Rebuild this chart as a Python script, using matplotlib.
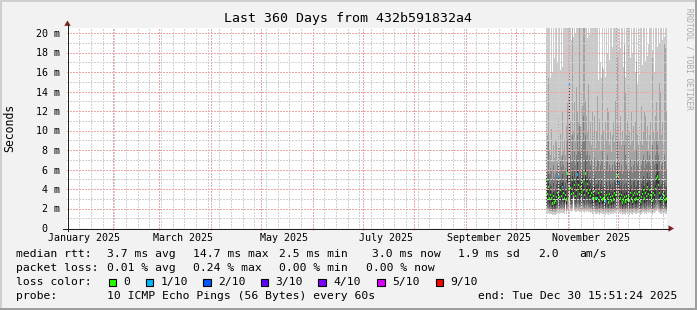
import numpy as np
import matplotlib
matplotlib.use('Agg')
import matplotlib.pyplot as plt
import matplotlib.dates as mdates
import pandas as pd
from matplotlib.patches import Rectangle, Polygon
from matplotlib.lines import Line2D

W, H, DPI = 697, 310, 100
MONO = 'DejaVu Sans Mono'
plt.rcParams['font.family'] = MONO

# ---------------- data ----------------
title = "Last 360 Days from 432b591832a4"
y_label = "Seconds"
period_start = pd.Timestamp('2025-01-04 15:51:24')
period_end = pd.Timestamp('2025-12-30 15:51:24')
data_start = pd.Timestamp('2025-10-19 01:27:24')
step_minutes = 864          # one consolidated column (0.6 day)

x_labels = ['January 2025', 'March 2025', 'May 2025', 'July 2025',
            'September 2025', 'November 2025']
x_label_dates = ['2025-01-15', '2025-03-15', '2025-05-15', '2025-07-15',
                 '2025-09-15', '2025-11-15']
y_ticks = [0, 2, 4, 6, 8, 10, 12, 14, 16, 18, 20]
y_tick_labels = ['0  ', '2 m', '4 m', '6 m', '8 m', '10 m', '12 m', '14 m',
                 '16 m', '18 m', '20 m']

# median rtt (ms) per column
median = [4.9, 3.5, 4.2, 3.0, 3.4, 3.0, 2.5, 3.3, 2.6, 2.8,
          3.2, 3.6, 5.3, 3.2, 3.9, 3.3, 4.2, 3.6, 3.0, 3.4,
          2.9, 5.6, 4.0, 14.7, 4.1, 3.5, 4.9, 3.6, 4.4, 3.3,
          3.9, 5.5, 4.4, 3.5, 4.2, 3.7, 4.75, 3.9, 3.4, 5.6,
          3.8, 4.5, 3.6, 3.9, 3.3, 3.6, 3.0, 3.4, 3.8, 3.0,
          3.1, 3.1, 3.6, 2.8, 3.2, 3.7, 2.9, 3.0, 3.3, 2.7,
          3.4, 3.0, 2.6, 3.5, 3.2, 2.8, 3.3, 2.9, 3.6, 3.4,
          3.1, 5.4, 4.6, 3.5, 3.0, 3.4, 2.6, 2.9, 3.2, 2.7,
          3.3, 2.9, 3.2, 2.8, 3.6, 3.1, 2.7, 3.4, 3.6, 2.9,
          3.0, 3.5, 3.7, 3.1, 2.7, 3.2, 3.5, 3.9, 3.0, 3.6,
          3.3, 4.2, 3.5, 3.9, 3.4, 3.2, 2.8, 3.6, 3.4, 4.0,
          5.1, 5.3, 4.4, 3.6, 3.0, 3.2, 3.5, 2.7, 3.3, 2.9,
          3.0]
# loss class per column (index into loss_colors)
loss = [0, 0, 0, 0, 0, 0, 0, 0, 0, 0,
        0, 0, 1, 0, 0, 0, 1, 0, 0, 0,
        0, 0, 0, 1, 0, 0, 0, 0, 0, 0,
        0, 1, 0, 0, 0, 0, 0, 0, 0, 0,
        0, 0, 0, 0, 0, 0, 0, 0, 0, 0,
        0, 1, 0, 0, 0, 0, 0, 0, 0, 1,
        0, 0, 0, 0, 0, 0, 0, 0, 0, 0,
        0, 0, 1, 0, 0, 0, 0, 0, 0, 0,
        0, 0, 0, 0, 0, 0, 0, 0, 0, 0,
        0, 0, 0, 0, 0, 0, 0, 0, 0, 0,
        0, 0, 0, 0, 0, 0, 0, 0, 0, 0,
        0, 0, 0, 0, 0, 1, 0, 0, 0, 0,
        0]
# sorted ping rtts (ms): p1 lowest ... p10 highest
p1 = [1.4, 1.4, 1.5, 1.4, 1.4, 1.4, 1.3, 1.4, 1.3, 1.3,
      1.4, 1.5, 1.6, 1.4, 1.5, 1.5, 1.5, 1.5, 1.4, 2.4,
      1.4, 1.7, 1.6, 3.5, 1.7, 1.6, 1.7, 3.1, 1.7, 1.6,
      1.6, 1.7, 1.7, 1.6, 1.6, 1.6, 1.7, 1.6, 1.5, 1.7,
      1.6, 1.7, 1.6, 1.6, 1.5, 1.6, 1.4, 1.5, 1.6, 1.4,
      1.4, 1.4, 1.5, 1.3, 1.5, 1.5, 1.4, 1.4, 1.5, 1.3,
      1.5, 1.4, 1.3, 1.5, 1.4, 1.4, 1.5, 1.4, 1.5, 1.5,
      1.4, 1.7, 1.6, 1.5, 1.4, 1.5, 1.3, 1.4, 1.4, 1.3,
      1.5, 1.4, 1.5, 1.3, 1.5, 1.4, 1.3, 1.5, 1.5, 1.4,
      1.4, 1.5, 1.5, 1.4, 1.3, 1.4, 1.5, 1.6, 1.4, 1.5,
      1.4, 1.6, 1.5, 1.6, 1.5, 1.4, 1.3, 1.5, 1.5, 1.6,
      1.7, 1.8, 1.6, 1.5, 1.4, 1.4, 1.5, 1.3, 1.5, 1.4,
      1.4]
p2 = [1.8, 1.8, 1.8, 1.7, 1.7, 1.7, 1.6, 1.7, 1.6, 1.6,
      1.7, 1.8, 1.9, 1.7, 1.8, 1.8, 1.9, 1.8, 1.7, 2.6,
      1.7, 2.0, 2.0, 3.7, 2.0, 1.9, 2.1, 3.2, 2.0, 1.9,
      1.9, 2.1, 2.0, 1.9, 1.9, 1.9, 2.0, 1.9, 1.8, 2.0,
      1.9, 2.0, 1.9, 1.9, 1.8, 1.9, 1.7, 1.8, 1.9, 1.7,
      1.7, 1.7, 1.8, 1.6, 1.8, 1.8, 1.7, 1.7, 1.8, 1.6,
      1.8, 1.7, 1.6, 1.8, 1.7, 1.7, 1.8, 1.7, 1.8, 1.8,
      1.7, 2.0, 1.9, 1.8, 1.7, 1.8, 1.6, 1.7, 1.7, 1.6,
      1.8, 1.7, 1.8, 1.6, 1.8, 1.7, 1.6, 1.8, 1.8, 1.7,
      1.7, 1.8, 1.8, 1.7, 1.6, 1.7, 1.8, 1.9, 1.7, 1.8,
      1.7, 1.9, 1.8, 1.9, 1.8, 1.7, 1.6, 1.8, 1.8, 1.9,
      2.0, 2.1, 1.9, 1.8, 1.7, 1.7, 1.8, 1.6, 1.8, 1.7,
      1.7]
p3 = [2.2, 2.1, 2.1, 1.9, 2.0, 1.9, 1.8, 2.0, 1.8, 1.8,
      2.0, 2.1, 2.3, 2.0, 2.1, 2.1, 2.2, 2.1, 1.9, 2.8,
      1.9, 2.4, 2.3, 3.9, 2.4, 2.2, 2.5, 3.3, 2.4, 2.2,
      2.2, 2.5, 2.4, 2.2, 2.3, 2.2, 2.4, 2.2, 2.1, 2.4,
      2.2, 2.4, 2.2, 2.2, 2.1, 2.2, 2.0, 2.1, 2.2, 2.0,
      2.0, 2.0, 2.1, 1.9, 2.1, 2.1, 1.9, 1.9, 2.1, 1.8,
      2.1, 1.9, 1.8, 2.1, 2.0, 1.9, 2.1, 1.9, 2.1, 2.1,
      2.0, 2.4, 2.3, 2.1, 1.9, 2.1, 1.8, 1.9, 2.0, 1.8,
      2.1, 1.9, 2.1, 1.8, 2.1, 2.0, 1.8, 2.1, 2.1, 1.9,
      1.9, 2.1, 2.1, 2.0, 1.8, 2.0, 2.1, 2.2, 1.9, 2.1,
      2.0, 2.3, 2.1, 2.2, 2.1, 2.0, 1.8, 2.1, 2.1, 2.2,
      2.4, 2.5, 2.3, 2.1, 1.9, 2.0, 2.1, 1.8, 2.1, 1.9,
      1.9]
p4 = [2.6, 2.4, 2.5, 2.2, 2.3, 2.2, 2.0, 2.3, 2.0, 2.1,
      2.3, 2.4, 2.8, 2.3, 2.5, 2.4, 2.7, 2.5, 2.2, 2.9,
      2.2, 2.9, 2.7, 4.2, 2.8, 2.5, 2.9, 3.4, 2.8, 2.5,
      2.6, 3.0, 2.8, 2.5, 2.7, 2.6, 2.8, 2.6, 2.4, 2.9,
      2.6, 2.8, 2.5, 2.6, 2.4, 2.5, 2.3, 2.4, 2.6, 2.3,
      2.3, 2.3, 2.5, 2.1, 2.4, 2.5, 2.2, 2.2, 2.4, 2.1,
      2.4, 2.2, 2.1, 2.4, 2.3, 2.1, 2.4, 2.2, 2.5, 2.4,
      2.3, 2.9, 2.7, 2.4, 2.2, 2.4, 2.0, 2.2, 2.3, 2.1,
      2.4, 2.2, 2.4, 2.1, 2.5, 2.3, 2.1, 2.4, 2.5, 2.2,
      2.2, 2.4, 2.5, 2.3, 2.1, 2.3, 2.4, 2.6, 2.2, 2.5,
      2.3, 2.7, 2.4, 2.6, 2.4, 2.3, 2.1, 2.5, 2.4, 2.6,
      2.9, 3.0, 2.7, 2.5, 2.2, 2.3, 2.4, 2.1, 2.4, 2.2,
      2.2]
p5 = [4.3, 3.0, 3.6, 2.6, 2.9, 2.6, 2.2, 2.8, 2.3, 2.4,
      2.8, 3.1, 4.0, 2.8, 3.3, 2.9, 3.6, 3.1, 2.6, 3.0,
      2.5, 4.6, 3.4, 4.5, 3.5, 3.0, 4.2, 3.5, 3.8, 2.9,
      3.4, 4.6, 3.8, 3.0, 3.6, 3.2, 4.0, 3.4, 2.9, 4.7,
      3.3, 3.9, 3.1, 3.4, 2.9, 3.1, 2.6, 2.9, 3.3, 2.6,
      2.7, 2.7, 3.1, 2.4, 2.8, 3.2, 2.5, 2.6, 2.9, 2.3,
      2.9, 2.6, 2.3, 3.0, 2.8, 2.4, 2.9, 2.5, 3.1, 2.9,
      2.7, 4.6, 3.9, 3.0, 2.6, 2.9, 2.3, 2.5, 2.8, 2.4,
      2.9, 2.5, 2.8, 2.4, 3.1, 2.7, 2.4, 2.9, 3.1, 2.5,
      2.6, 3.0, 3.2, 2.7, 2.4, 2.8, 3.0, 3.4, 2.6, 3.1,
      2.8, 3.6, 3.0, 3.4, 2.9, 2.8, 2.4, 3.1, 2.9, 3.5,
      4.4, 4.6, 3.8, 3.1, 2.6, 2.8, 3.0, 2.4, 2.9, 2.5,
      2.6]
p6 = [5.3, 3.9, 4.6, 3.4, 3.8, 3.4, 2.9, 3.7, 3.0, 3.2,
      3.6, 4.0, 5.6, 3.6, 4.3, 3.7, 4.6, 4.0, 3.4, 3.8,
      3.3, 6.0, 4.4, 14.7, 4.5, 3.9, 5.3, 4.0, 4.8, 3.7,
      4.3, 5.9, 4.8, 3.9, 4.6, 5.0, 5.1, 4.3, 3.8, 6.0,
      4.2, 4.9, 4.0, 4.3, 3.7, 4.0, 3.4, 3.8, 4.2, 3.4,
      3.5, 3.5, 4.0, 3.2, 3.6, 4.1, 3.3, 3.4, 3.7, 3.1,
      3.8, 3.4, 3.0, 3.9, 3.6, 3.2, 3.7, 3.3, 4.0, 3.8,
      3.5, 5.9, 5.0, 3.9, 3.4, 3.8, 3.0, 3.3, 3.6, 3.1,
      3.7, 3.3, 5.0, 3.2, 4.0, 3.5, 3.1, 3.8, 4.0, 3.3,
      3.4, 3.9, 4.1, 3.5, 3.1, 3.6, 3.9, 4.3, 3.4, 4.0,
      3.7, 4.6, 3.9, 4.3, 3.8, 3.6, 3.2, 4.0, 3.8, 4.4,
      5.5, 5.7, 4.8, 4.0, 3.4, 3.6, 3.9, 3.1, 3.7, 3.3,
      3.4]
p7 = [6.0, 4.8, 5.5, 4.2, 4.5, 4.3, 3.6, 4.6, 3.8, 4.0,
      4.5, 4.8, 6.5, 4.5, 5.0, 4.6, 5.5, 4.8, 4.2, 4.6,
      4.0, 6.8, 5.5, 15.0, 5.4, 4.8, 6.2, 5.0, 5.8, 4.6,
      5.2, 6.8, 5.8, 5.0, 5.6, 5.2, 6.0, 5.4, 4.8, 7.0,
      5.2, 5.8, 5.0, 5.2, 4.6, 4.9, 4.3, 4.7, 5.2, 4.3,
      4.5, 4.5, 5.0, 4.0, 4.5, 5.0, 4.2, 4.3, 4.6, 4.0,
      4.7, 4.3, 3.9, 4.8, 4.5, 4.1, 4.6, 4.2, 5.0, 4.7,
      4.5, 6.8, 6.0, 4.8, 4.3, 4.7, 3.9, 4.2, 4.5, 4.0,
      4.6, 4.2, 6.0, 4.1, 5.0, 4.4, 4.0, 4.7, 5.0, 4.2,
      4.3, 4.8, 5.0, 4.4, 4.0, 4.5, 4.8, 5.3, 4.3, 5.0,
      4.6, 5.6, 4.8, 5.2, 4.7, 4.5, 4.1, 5.0, 4.7, 5.4,
      6.6, 6.6, 5.8, 5.0, 4.3, 4.5, 4.8, 4.0, 4.6, 4.2,
      4.3]
p8 = [8.5, 6.0, 9.0, 5.5, 6.2, 5.8, 5.0, 6.5, 5.2, 5.6,
      6.0, 6.5, 8.2, 6.0, 7.0, 6.3, 7.5, 6.5, 5.8, 6.2,
      5.5, 9.0, 8.0, 16.0, 7.5, 6.8, 9.5, 7.0, 8.0, 6.5,
      7.5, 9.5, 8.0, 10.5, 7.8, 8.5, 8.8, 11.5, 9.0, 9.5,
      7.5, 8.0, 7.0, 7.5, 6.5, 7.0, 6.0, 6.5, 7.2, 6.0,
      6.3, 7.0, 7.0, 5.8, 6.5, 7.0, 8.0, 6.0, 6.5, 5.8,
      6.8, 7.5, 6.0, 6.5, 6.2, 5.8, 6.5, 6.0, 7.0, 6.5,
      10.0, 9.0, 8.0, 6.8, 6.0, 6.5, 5.5, 6.0, 8.5, 7.5,
      6.5, 6.0, 9.5, 6.0, 7.0, 6.3, 5.6, 6.5, 7.0, 6.0,
      8.0, 6.5, 7.0, 6.2, 5.8, 6.5, 7.0, 7.5, 6.2, 7.0,
      6.6, 8.0, 6.8, 7.5, 6.5, 6.2, 8.5, 7.0, 6.5, 7.5,
      9.0, 8.5, 7.5, 7.0, 6.0, 6.5, 6.8, 5.6, 7.5, 7.0,
      6.0]
p9 = [16.7, 9.5, 15.4, 8.0, 7.5, 10.2, 6.8, 8.5, 7.2, 9.0,
      8.8, 7.0, 11.5, 8.2, 9.6, 7.4, 12.0, 8.0, 9.0, 7.5,
      10.5, 12.8, 13.5, 24.0, 11.0, 9.5, 24.0, 10.0, 13.0, 9.0,
      14.5, 12.0, 11.0, 22.0, 10.5, 14.0, 12.5, 24.0, 20.8, 13.0,
      11.5, 10.0, 14.8, 9.0, 11.0, 8.5, 12.0, 9.8, 11.5, 8.2,
      10.0, 13.5, 9.0, 11.2, 8.0, 9.5, 16.5, 10.0, 8.5, 11.0,
      9.0, 12.3, 12.0, 8.5, 10.0, 7.8, 9.5, 11.0, 8.8, 13.0,
      24.0, 17.5, 10.5, 9.0, 11.5, 8.5, 10.0, 9.0, 18.8, 14.0,
      9.5, 11.0, 22.0, 10.0, 8.5, 12.0, 9.0, 10.5, 8.0, 11.0,
      17.0, 9.5, 8.5, 10.5, 9.0, 12.5, 8.5, 10.0, 12.0, 11.5,
      9.0, 10.5, 8.0, 9.5, 11.0, 8.5, 17.4, 10.0, 9.0, 11.5,
      13.0, 10.0, 9.0, 14.9, 14.0, 9.5, 11.0, 8.5, 19.0, 18.5,
      12.0]
p10 = [24, 24, 24, 22, 15.4, 24, 16.0, 24, 17.4, 24,
       24, 16.9, 24, 24, 16.2, 24, 16.5, 24, 24, 24,
       24, 24, 24, 24, 24, 19.3, 24, 19.6, 24, 20.0,
       24, 24, 24, 24, 24, 24, 24, 24, 24, 24,
       24, 19.5, 24, 19.8, 24, 24, 24, 24, 24, 24,
       24, 24, 15.2, 24, 17.0, 15.4, 24, 16.3, 24, 15.5,
       24, 18.0, 24, 17.2, 24, 24, 18.6, 24, 24, 24,
       24, 24, 18.3, 24, 18.5, 24, 24, 16.5, 24, 15.5,
       24, 24, 24, 24, 17.4, 24, 17.8, 24, 24, 16.0,
       24, 14.8, 24, 15.8, 24, 24, 16.7, 24, 24, 17.1,
       24, 17.6, 18.9, 24, 24, 24, 18.3, 24, 16.0, 24,
       24, 18.6, 24, 19.0, 24, 24, 19.3, 24, 19.6, 24,
       24]

loss_labels = ['0', '1/10', '2/10', '3/10', '4/10', '5/10', '9/10']
loss_colors = ['#26ff00', '#00b8ff', '#0059ff', '#5e00ff', '#7e00ff',
               '#dd00ff', '#ff0000']
smoke_colors = ['#cacaca', '#a4a4a4', '#7e7e7e', '#585858', '#323232']

rtt_avg, rtt_max, rtt_min, rtt_now, rtt_sd, am_s = 3.7, 14.7, 2.5, 3.0, 1.9, 2.0
loss_avg, loss_max, loss_min, loss_now = 0.01, 0.24, 0.00, 0.00
probe_text = "10 ICMP Echo Pings (56 Bytes) every 60s"
end_text = "end: Tue Dec 30 15:51:24 2025"
credit = "RRDTOOL / TOBI OETIKER"

# ---------------- figure ----------------
fig = plt.figure(figsize=(W / DPI, H / DPI), dpi=DPI, facecolor='#f2f2f2')


def fx(x):
    return x / W


def fy(y):
    return 1 - y / H


# 3D frame
fig.patches.append(Rectangle((0, fy(2)), 1, 2 / H, transform=fig.transFigure,
                             color='#cfcfcf', lw=0))
fig.patches.append(Rectangle((0, 0), 2 / W, 1, transform=fig.transFigure,
                             color='#cfcfcf', lw=0))
fig.patches.append(Rectangle((0, 0), 1, 2 / H, transform=fig.transFigure,
                             color='#9e9e9e', lw=0))
fig.patches.append(Rectangle((fx(695), 0), 2 / W, 1, transform=fig.transFigure,
                             color='#9e9e9e', lw=0))

L, R, T, B = 67, 667, 28, 228
ax = fig.add_axes([fx(L), fy(B), (R - L) / W, (B - T) / H])
ax.set_facecolor('white')
for s in ax.spines.values():
    s.set_visible(False)

x0 = mdates.date2num(period_start)
x1 = mdates.date2num(period_end)
ymax = 200 / 9.75
ax.set_xlim(x0, x1)
ax.set_ylim(0, ymax)

n = len(median)
times = pd.date_range(data_start, periods=n, freq=f'{step_minutes}min')
xs = mdates.date2num(times)
wd = step_minutes / 1440.0

lows = [p1, p2, p3, p4, p5]
highs = [p10, p9, p8, p7, p6]
for lo, hi, c in zip(lows, highs, smoke_colors):
    lo = np.array(lo, float)
    hi = np.array(hi, float)
    ax.bar(xs, hi - lo, bottom=lo, width=wd, align='edge', color=c,
           linewidth=0, antialiased=False, zorder=1)

# grid (dotted, drawn over the smoke like rrdtool)
minor_color = '#d0d0d0'
major_color = '#eca6a6'
dots = (0, (1.39, 1.39))
weeks = mdates.date2num(pd.date_range('2025-01-05', '2025-12-28', freq='7D'))
months = mdates.date2num(pd.date_range('2025-02-01', '2025-12-01', freq='MS'))
gkw = dict(linestyles=dots, lw=0.72, antialiased=False)
ax.vlines(weeks, 0, ymax, colors=minor_color, zorder=2, **gkw)
ax.hlines(np.arange(1, 21, 2), x0, x1, colors=minor_color, zorder=2, **gkw)
ax.vlines(months, 0, ymax, colors=major_color, zorder=2.1, **gkw)
ax.hlines(np.arange(2, 21, 2), x0, x1, colors=major_color, zorder=2.1, **gkw)

# median markers coloured by loss
med = np.array(median, float)
mcol = [loss_colors[k] for k in loss]
ax.bar(xs, 0.26, bottom=med - 0.13, width=wd, align='edge', color=mcol,
       linewidth=0, antialiased=False, zorder=3)

# ticks
ax.set_xticks(mdates.date2num(pd.to_datetime(x_label_dates)))
ax.set_xticklabels(x_labels, fontsize=7.2, family=MONO)
ax.set_xticks(months, minor=True)
ax.tick_params(axis='x', which='major', length=0, pad=3.3)
ax.tick_params(axis='x', which='minor', length=1.6, width=0.72, color='#e08080',
               direction='out')
ax.set_yticks(y_ticks)
ax.set_yticklabels(y_tick_labels, fontsize=7.2, family=MONO)
ax.tick_params(axis='y', length=0, pad=5.0)


# axes lines and arrows (pixel space)
def pline(xa, ya, xb, yb, c, lw=0.72):
    fig.add_artist(Line2D([fx(xa), fx(xb)], [fy(ya), fy(yb)], color=c, lw=lw,
                          transform=fig.transFigure, solid_capstyle='butt',
                          antialiased=False))


pline(67.5, 231, 67.5, 25, '#1f1f1f')
pline(63, 228.5, 669, 228.5, '#1f1f1f')
fig.patches.append(Polygon([(fx(64.3), fy(25.8)), (fx(70.7), fy(25.8)), (fx(67.5), fy(20.5))],
                           closed=True, transform=fig.transFigure, color='#801f1f', lw=0))
fig.patches.append(Polygon([(fx(668.5), fy(225.3)), (fx(668.5), fy(231.7)), (fx(674), fy(228.5))],
                           closed=True, transform=fig.transFigure, color='#801f1f', lw=0))

# texts
fig.text(fx(348), fy(18.5), title, ha='center', va='center', fontsize=9.5, family=MONO)
fig.text(fx(10), fy(128), y_label, ha='center', va='center', rotation=90,
         fontsize=8.3, family=MONO)
fig.text(fx(688.5), fy(58.5), credit, ha='center', va='center', rotation=270,
         fontsize=5.6, family=MONO, color='#a8a8a8')


def lt(x, y, s):
    fig.text(fx(x), fy(y), s, ha='left', va='center', fontsize=8.2, family=MONO)


r1, r2, r3, r4 = 254, 268.3, 282.3, 296
lt(16, r1, "median rtt:")
lt(107.3, r1, f"{rtt_avg:.1f} ms avg")
lt(193.3, r1, f"{rtt_max:.1f} ms max")
lt(279.3, r1, f"{rtt_min:.1f} ms min")
lt(371.7, r1, f"{rtt_now:.1f} ms now")
lt(458.3, r1, f"{rtt_sd:.1f} ms sd")
lt(538.3, r1, f"{am_s:.1f}")
lt(579.3, r1, "am/s")

lt(16, r2, "packet loss:")
lt(107.3, r2, f"{loss_avg:.2f} % avg")
lt(193.3, r2, f"{loss_max:.2f} % max")
lt(279.3, r2, f"{loss_min:.2f} % min")
lt(366, r2, f"{loss_now:.2f} % now")

lt(16, r3, "loss color:")
box_x = [108.7, 145.7, 203.3, 260.7, 318.3, 377.3, 436]
for bx, lab, col in zip(box_x, loss_labels, loss_colors):
    fig.patches.append(Rectangle((fx(bx), fy(r3 + 3.7)), 7.3 / W, 7.3 / H,
                                 transform=fig.transFigure, facecolor=col,
                                 edgecolor='black', lw=0.8))
    lt(bx + 14.7, r3, lab)

lt(16, r4, "probe:")
lt(107.3, r4, probe_text)
lt(478.3, r4, end_text)

fig.savefig('out.png', dpi=DPI, facecolor=fig.get_facecolor())
